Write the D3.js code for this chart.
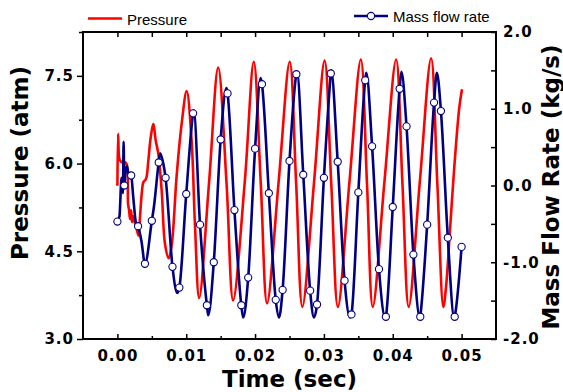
<!DOCTYPE html>
<html>
<head>
<meta charset="utf-8">
<script src="https://cdn.jsdelivr.net/npm/d3@7"></script>
<style>
  body { margin: 0; background: #fff; }
  svg { display: block; }
  .tick text { font-family: "DejaVu Sans", sans-serif; font-weight: bold; font-size: 15px; letter-spacing: 1px; fill: #000; }
  .title { font-family: "DejaVu Sans", sans-serif; font-weight: bold; font-size: 23px; fill: #000; }
  .legend { font-family: "Liberation Sans", Arial, sans-serif; font-size: 15px; fill: #000; }
</style>
</head>
<body>
<svg id="chart" width="563" height="392"></svg>
<script>
// tick values
const xMajor = [0, 0.01, 0.02, 0.03, 0.04, 0.05];
const xMinor = [0.005, 0.015, 0.025, 0.035, 0.045];
const pMajor = [3.0, 4.5, 6.0, 7.5];
const pMinor = [3.75, 5.25, 6.75, 8.25];
const fMajor = [-2, -1, 0, 1, 2];
const fMinor = [-1.5, -0.5, 0.5, 1.5];

// pressure (atm), red line
const pressureTime = [0, 0.0001, 0.00025, 0.0004, 0.00068, 0.00097, 0.00133, 0.00155, 0.0017, 0.00184,
  0.00199, 0.00213, 0.00228, 0.00257, 0.00286, 0.00307, 0.00329, 0.00353, 0.00377, 0.00416,
  0.00449, 0.00484, 0.00522, 0.00557, 0.00594, 0.00643, 0.00691, 0.00745, 0.00788, 0.00861,
  0.00933, 0.01006, 0.01078, 0.01126, 0.01188, 0.01333, 0.01464, 0.01586, 0.01681, 0.01851,
  0.01981, 0.02083, 0.02174, 0.02343, 0.02503, 0.02597, 0.02687, 0.02858, 0.0301, 0.03107,
  0.03203, 0.03372, 0.03536, 0.03626, 0.0371, 0.0388, 0.04049, 0.04141, 0.04232, 0.04394,
  0.04557, 0.04648, 0.04735, 0.04774, 0.04822, 0.04894, 0.04967, 0.05006];
const pressureValue = [5.62, 6.51, 6.10, 6.05, 6.02, 6.03, 5.99, 5.31, 5.20, 5.05,
  5.20, 5.00, 5.10, 4.98, 4.85, 4.77, 5.10, 5.48, 5.68, 5.74,
  6.05, 6.45, 6.68, 6.39, 6.17, 5.54, 4.63, 4.38, 4.60, 5.80,
  6.68, 7.24, 6.39, 4.97, 3.70, 5.70, 7.64, 5.65, 3.66, 5.70,
  7.74, 5.65, 3.61, 5.70, 7.74, 5.65, 3.55, 5.70, 7.76, 5.65,
  3.55, 5.70, 7.78, 5.65, 3.55, 5.70, 7.78, 5.65, 3.55, 5.70,
  7.80, 5.65, 3.55, 3.89, 4.69, 5.94, 6.96, 7.27];

// mass flow rate (kg/s), open circle markers
const markerTime = [0, 0.001, 0.002, 0.003, 0.004, 0.005, 0.006, 0.007, 0.008, 0.009,
  0.010, 0.011, 0.012, 0.013, 0.014, 0.015, 0.016, 0.017, 0.018, 0.019,
  0.020, 0.021, 0.022, 0.023, 0.024, 0.025, 0.026, 0.027, 0.028, 0.029,
  0.030, 0.031, 0.032, 0.033, 0.034, 0.035, 0.036, 0.037, 0.038, 0.039,
  0.040, 0.041, 0.042, 0.043, 0.044, 0.045, 0.046, 0.047, 0.048, 0.049, 0.050];
const markerValue = [-0.47, 0.00, 0.13, -0.53, -1.02, -0.46, 0.30, 0.10, -1.06, -1.33,
  -0.11, 0.94, -0.51, -1.56, -1.00, 0.60, 1.20, -0.32, -1.56, -1.20,
  0.48, 1.32, -0.10, -1.49, -1.36, 0.32, 1.45, 0.14, -1.37, -1.55,
  0.10, 1.46, 0.31, -1.24, -1.68, -0.09, 1.37, 0.51, -1.09, -1.71,
  -0.28, 1.26, 0.77, -0.90, -1.71, -0.51, 1.08, 0.97, -0.68, -1.71, -0.80];

// extra points of the flow line between the markers (spikes, peaks, troughs)
const flowTime = [0.0003, 0.0006, 0.0008, 0.0009, 0.0012, 0.0014, 0.0016, 0.0023, 0.0027, 0.0035,
  0.0053, 0.0062, 0.0067, 0.0087, 0.01108, 0.01319, 0.01584, 0.01826, 0.02081, 0.02348,
  0.02609, 0.02855, 0.03104, 0.0338, 0.03615, 0.03894, 0.04126, 0.04397, 0.04641, 0.04894];
const flowValue = [-0.40, 0.10, -0.10, 0.57, 0.20, 0.25, 0.15, -0.15, -0.49, -0.73,
  -0.28, 0.42, 0.27, -1.40, 0.98, -1.69, 1.27, -1.72, 1.40, -1.72,
  1.48, -1.72, 1.50, -1.72, 1.47, -1.73, 1.48, -1.73, 1.47, -1.73];

const svg = d3.select("#chart"),
    plotLeft = 83, plotRight = 496, plotTop = 32, plotBottom = 339;

const x = d3.scaleLinear().domain([-0.005, 0.055]).range([plotLeft, plotRight]),
    yP = d3.scaleLinear().domain([3, 8.25]).range([plotBottom, plotTop]),
    yF = d3.scaleLinear().domain([-2, 2]).range([plotBottom, plotTop]);

const pressure = pressureTime.map((t, i) => ({ t: t, v: pressureValue[i] }));
const markers = markerTime.map((t, i) => ({ t: t, v: markerValue[i] }));
const flow = markers.concat(flowTime.map((t, i) => ({ t: t, v: flowValue[i] })))
    .sort((a, b) => a.t - b.t);

function styleAxis(g) {
    g.select(".domain").remove();
    g.selectAll(".tick line").attr("stroke", "#000").attr("stroke-width", 1.5);
    g.selectAll("text").attr("font-family", null).attr("font-size", null);
}

// bottom axis, ticks inward
svg.append("g").attr("transform", "translate(0," + plotBottom + ")")
    .call(d3.axisBottom(x).tickValues(xMajor).tickSize(-5).tickPadding(11).tickFormat(d3.format(".2f")))
    .call(styleAxis);
svg.append("g").attr("transform", "translate(0," + plotBottom + ")")
    .call(d3.axisBottom(x).tickValues(xMinor).tickSize(-3).tickFormat(""))
    .call(styleAxis);

// top axis, ticks inward
svg.append("g").attr("transform", "translate(0," + plotTop + ")")
    .call(d3.axisTop(x).tickValues(xMajor.concat(xMinor)).tickSize(-5).tickFormat(""))
    .call(styleAxis);

// left axis (pressure), ticks outward
svg.append("g").attr("transform", "translate(" + plotLeft + ",0)")
    .call(d3.axisLeft(yP).tickValues(pMajor).tickSize(6).tickPadding(3).tickFormat(d3.format(".1f")))
    .call(styleAxis);
svg.append("g").attr("transform", "translate(" + plotLeft + ",0)")
    .call(d3.axisLeft(yP).tickValues(pMinor).tickSize(4).tickFormat(""))
    .call(styleAxis);

// right axis (mass flow), ticks inward
svg.append("g").attr("transform", "translate(" + plotRight + ",0)")
    .call(d3.axisRight(yF).tickValues(fMajor).tickSize(-5).tickPadding(7)
        .tickFormat(d => d3.format(".1f")(d).replace("\u2212", "-")))
    .call(styleAxis);
svg.append("g").attr("transform", "translate(" + plotRight + ",0)")
    .call(d3.axisRight(yF).tickValues(fMinor).tickSize(-5).tickFormat(""))
    .call(styleAxis);

// frame
svg.append("rect")
    .attr("x", plotLeft).attr("y", plotTop)
    .attr("width", plotRight - plotLeft).attr("height", plotBottom - plotTop)
    .attr("fill", "none").attr("stroke", "#000").attr("stroke-width", 2);

// lines
const linePressure = d3.line().x(d => x(d.t)).y(d => yP(d.v)).curve(d3.curveCatmullRom.alpha(0.5));
const lineFlow = d3.line().x(d => x(d.t)).y(d => yF(d.v)).curve(d3.curveMonotoneX);

svg.append("path").datum(pressure)
    .attr("d", linePressure)
    .attr("fill", "none").attr("stroke", "#ff0000").attr("stroke-width", 2.6);

svg.append("path").datum(flow)
    .attr("d", lineFlow)
    .attr("fill", "none").attr("stroke", "#000080").attr("stroke-width", 2.6)
    .attr("stroke-linejoin", "round");

svg.append("g").selectAll("circle").data(markers).join("circle")
    .attr("cx", d => x(d.t)).attr("cy", d => yF(d.v)).attr("r", 3.6)
    .attr("fill", "#fff").attr("stroke", "#000080").attr("stroke-width", 1.1);

// axis titles
svg.append("text").attr("class", "title")
    .attr("x", (plotLeft + plotRight) / 2).attr("y", 387)
    .attr("text-anchor", "middle").text("Time (sec)");
svg.append("text").attr("class", "title")
    .attr("transform", "translate(28,163) rotate(-90)")
    .attr("text-anchor", "middle").text("Pressure (atm)");
svg.append("text").attr("class", "title")
    .attr("transform", "translate(559,187) rotate(-90)")
    .attr("text-anchor", "middle").text("Mass Flow Rate (kg/s)");

// legend
svg.append("line").attr("x1", 88).attr("x2", 122).attr("y1", 18.5).attr("y2", 18.5)
    .attr("stroke", "#ff0000").attr("stroke-width", 2.6);
svg.append("text").attr("class", "legend").attr("x", 127).attr("y", 25).text("Pressure");
svg.append("line").attr("x1", 354).attr("x2", 388).attr("y1", 16).attr("y2", 16)
    .attr("stroke", "#000080").attr("stroke-width", 2.6);
svg.append("circle").attr("cx", 371).attr("cy", 16).attr("r", 3.6)
    .attr("fill", "#fff").attr("stroke", "#000080").attr("stroke-width", 1.1);
svg.append("text").attr("class", "legend").attr("x", 393).attr("y", 21.5).text("Mass flow rate");
</script>
</body>
</html>
